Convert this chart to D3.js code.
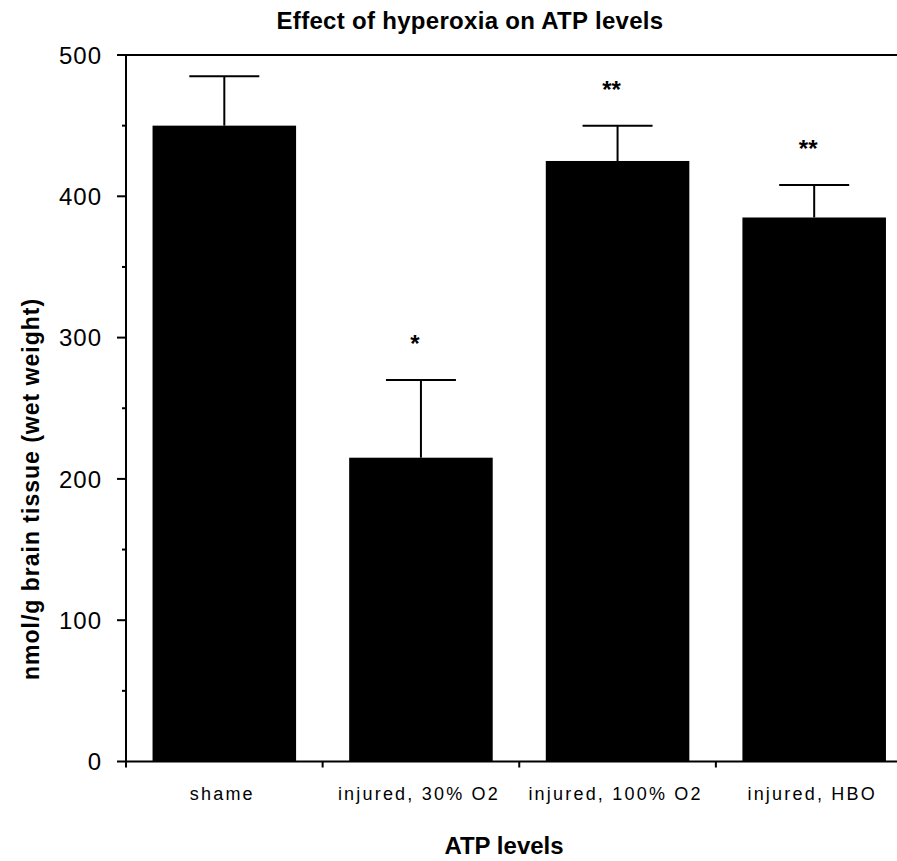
<!DOCTYPE html>
<html>
<head>
<meta charset="utf-8">
<script src="https://cdn.jsdelivr.net/npm/d3@7"></script>
<style>
  body { margin: 0; background: #fff; }
  text { font-family: "Liberation Sans", Arial, sans-serif; fill: #000; }
</style>
</head>
<body>
<div id="chart"></div>
<script>
// data
var categories = ["shame", "injured, 30% O2", "injured, 100% O2", "injured, HBO"];
var means = [450, 215, 425, 385];
var errors = [35, 55, 25, 23];
var marks = ["", "*", "**", "**"];
var yTicks = [0, 100, 200, 300, 400, 500];

var width = 897, height = 861;

var svg = d3.select("#chart").append("svg")
  .attr("width", width)
  .attr("height", height);

var x = d3.scaleBand()
  .domain(categories)
  .range([126, 912.5])
  .paddingInner(0.27)
  .paddingOuter(0.135);

var y = d3.scaleLinear()
  .domain([0, 500])
  .range([761.5, 55]);

var rows = categories.map(function(c, i) {
  return { label: c, value: means[i], err: errors[i], mark: marks[i] };
});

// title
svg.append("text")
  .attr("x", 470)
  .attr("y", 29)
  .attr("text-anchor", "middle")
  .style("font-size", "24px")
  .style("font-weight", "bold")
  .style("letter-spacing", "0.3px")
  .text("Effect of hyperoxia on ATP levels");

// bars
svg.selectAll("rect.bar")
  .data(rows)
  .enter().append("rect")
  .attr("class", "bar")
  .attr("x", function(d) { return x(d.label); })
  .attr("y", function(d) { return y(d.value); })
  .attr("width", x.bandwidth())
  .attr("height", function(d) { return y(0) - y(d.value); })
  .style("fill", "#000");

// error bars (upper only)
var eb = svg.append("g").attr("class", "errs");
eb.selectAll("line.v")
  .data(rows)
  .enter().append("line")
  .attr("x1", function(d) { return x(d.label) + x.bandwidth() / 2; })
  .attr("x2", function(d) { return x(d.label) + x.bandwidth() / 2; })
  .attr("y1", function(d) { return y(d.value); })
  .attr("y2", function(d) { return y(d.value + d.err); })
  .style("stroke", "#000")
  .style("stroke-width", 2);
eb.selectAll("line.cap")
  .data(rows)
  .enter().append("line")
  .attr("x1", function(d) { return x(d.label) + x.bandwidth() / 2 - 35; })
  .attr("x2", function(d) { return x(d.label) + x.bandwidth() / 2 + 35; })
  .attr("y1", function(d) { return y(d.value + d.err); })
  .attr("y2", function(d) { return y(d.value + d.err); })
  .style("stroke", "#000")
  .style("stroke-width", 2);

// significance stars
svg.selectAll("text.star")
  .data(rows)
  .enter().append("text")
  .attr("class", "star")
  .attr("x", function(d) { return x(d.label) + x.bandwidth() / 2 - 6; })
  .attr("y", function(d) { return y(d.value + d.err) - 28; })
  .attr("text-anchor", "middle")
  .style("font-size", "24px")
  .style("font-weight", "bold")
  .text(function(d) { return d.mark; });

// y axis
var yAxis = svg.append("g").attr("class", "yaxis");
yAxis.append("line")
  .attr("x1", 126).attr("x2", 126)
  .attr("y1", y(500)).attr("y2", y(0) + 1)
  .style("stroke", "#000").style("stroke-width", 2);
yAxis.selectAll("line.major")
  .data(yTicks)
  .enter().append("line")
  .attr("x1", 117).attr("x2", 126)
  .attr("y1", function(d) { return y(d); })
  .attr("y2", function(d) { return y(d); })
  .style("stroke", "#000").style("stroke-width", 2);
yAxis.selectAll("line.minor")
  .data(yTicks.slice(0, -1))
  .enter().append("line")
  .attr("x1", 122).attr("x2", 126)
  .attr("y1", function(d) { return y(d + 50); })
  .attr("y2", function(d) { return y(d + 50); })
  .style("stroke", "#000").style("stroke-width", 2);
yAxis.selectAll("text")
  .data(yTicks)
  .enter().append("text")
  .attr("x", 102)
  .attr("y", function(d) { return y(d); })
  .attr("dy", "0.36em")
  .attr("text-anchor", "end")
  .style("font-size", "24px")
  .style("letter-spacing", "1px")
  .text(function(d) { return d; });

// top frame line
svg.append("line")
  .attr("x1", 126).attr("x2", width)
  .attr("y1", y(500)).attr("y2", y(500))
  .style("stroke", "#000").style("stroke-width", 2);

// x axis
var xAxis = svg.append("g").attr("class", "xaxis");
xAxis.append("line")
  .attr("x1", 125).attr("x2", width)
  .attr("y1", y(0)).attr("y2", y(0))
  .style("stroke", "#000").style("stroke-width", 2);
xAxis.selectAll("line.tick")
  .data(d3.range(categories.length))
  .enter().append("line")
  .attr("x1", function(i) { return x.range()[0] + i * x.step(); })
  .attr("x2", function(i) { return x.range()[0] + i * x.step(); })
  .attr("y1", y(0))
  .attr("y2", y(0) + 6)
  .style("stroke", "#000").style("stroke-width", 2);
xAxis.selectAll("text")
  .data(categories)
  .enter().append("text")
  .attr("x", function(d) { return x(d) + x.bandwidth() / 2 - 2; })
  .attr("y", 800)
  .attr("text-anchor", "middle")
  .style("font-size", "18px")
  .style("letter-spacing", "2.2px")
  .text(function(d) { return d; });

// axis titles
svg.append("text")
  .attr("x", 504)
  .attr("y", 854)
  .attr("text-anchor", "middle")
  .style("font-size", "24px")
  .style("font-weight", "bold")
  .text("ATP levels");

svg.append("text")
  .attr("transform", "translate(39,489) rotate(-90)")
  .attr("text-anchor", "middle")
  .style("font-size", "23px")
  .style("font-weight", "bold")
  .style("letter-spacing", "1px")
  .text("nmol/g brain tissue (wet weight)");
</script>
</body>
</html>
